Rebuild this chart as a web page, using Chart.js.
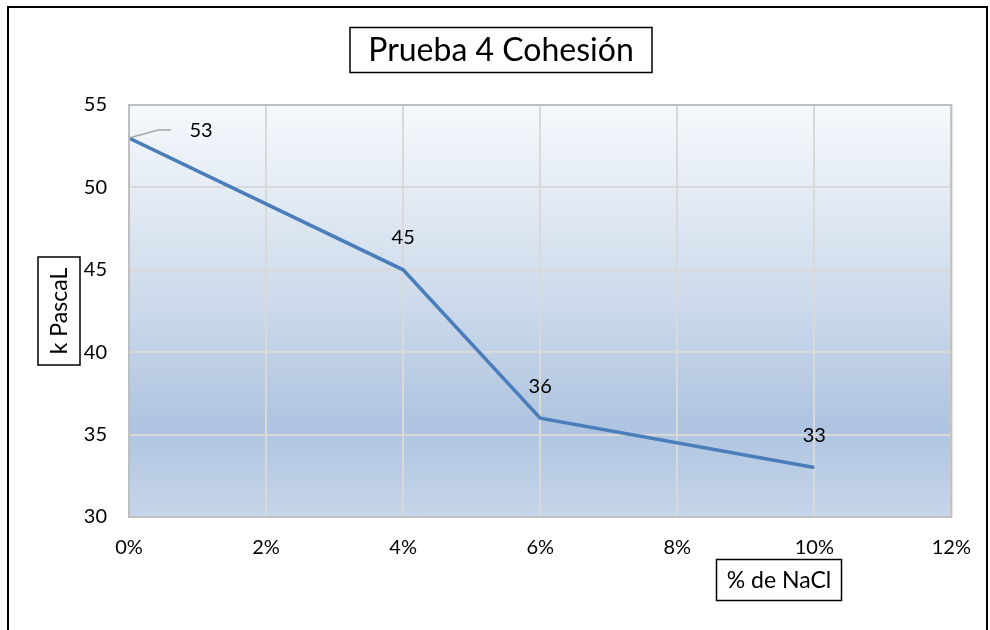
<!DOCTYPE html>
<html>
<head>
<meta charset="utf-8">
<script src="https://cdn.jsdelivr.net/npm/chart.js@4.4.1/dist/chart.umd.min.js"></script>
<style>
  html, body { margin: 0; padding: 0; background: #fff; }
  #wrap { position: relative; width: 990px; height: 630px; }
</style>
</head>
<body>
<div id="wrap"><canvas id="c" width="990" height="630"></canvas></div>
<script>
// NaCl content (fraction) and cohesion in kPa
const naclFraction = [0, 0.04, 0.06, 0.10];
const cohesionKPa = [53, 45, 36, 33];
const xTicks = [0, 0.02, 0.04, 0.06, 0.08, 0.10, 0.12];
const yTicks = [30, 35, 40, 45, 50, 55];

const titleText = 'Prueba 4 Cohesión';
const xTitleText = '% de NaCl';
const yTitleText = 'k PascaL';

const FONT = 'Lato, "Open Sans", sans-serif';

function boxedText(ctx, text, cx, cy, w, h, size, rotate) {
  ctx.save();
  ctx.translate(cx, cy);
  if (rotate) ctx.rotate(-Math.PI / 2);
  ctx.fillStyle = '#fff';
  ctx.fillRect(-w / 2, -h / 2, w, h);
  ctx.strokeStyle = '#000';
  ctx.lineWidth = 1.5;
  ctx.strokeRect(-w / 2, -h / 2, w, h);
  ctx.fillStyle = '#000';
  ctx.font = size + 'px ' + FONT;
  ctx.textAlign = 'center';
  ctx.textBaseline = 'middle';
  ctx.fillText(text, 0, 1);
  ctx.restore();
}

const decorations = {
  id: 'decorations',
  beforeDraw(chart) {
    const { ctx, chartArea: a } = chart;
    ctx.save();
    ctx.fillStyle = '#fff';
    ctx.fillRect(0, 0, chart.width, chart.height);
    const g = ctx.createLinearGradient(0, a.top, 0, a.bottom);
    g.addColorStop(0, '#F6F9FC');
    g.addColorStop(0.45, '#CFDCEC');
    g.addColorStop(0.78, '#AFC4E0');
    g.addColorStop(1, '#C6D6EA');
    ctx.fillStyle = g;
    ctx.fillRect(a.left, a.top, a.right - a.left, a.bottom - a.top);
    ctx.restore();
  },
  afterDraw(chart) {
    const { ctx, chartArea: a } = chart;
    ctx.save();
    // plot frame
    ctx.strokeStyle = '#BFBFBF';
    ctx.lineWidth = 2;
    ctx.strokeRect(a.left, a.top, a.right - a.left, a.bottom - a.top);
    // outer chart frame
    ctx.strokeStyle = '#000';
    ctx.lineWidth = 2;
    ctx.strokeRect(8, 7, 979, 640);
    ctx.restore();
    boxedText(ctx, titleText, 501, 50, 302, 45, 32, false);
    boxedText(ctx, xTitleText, 779, 580, 125, 41, 23, false);
    boxedText(ctx, yTitleText, 59, 311, 108, 42, 23, true);
  }
};

const valueLabels = {
  id: 'valueLabels',
  afterDatasetsDraw(chart) {
    const { ctx } = chart;
    const meta = chart.getDatasetMeta(0);
    ctx.save();
    ctx.font = '20px ' + FONT;
    ctx.fillStyle = '#000';
    ctx.textAlign = 'center';
    ctx.textBaseline = 'middle';
    meta.data.forEach((pt, i) => {
      const v = chart.data.datasets[0].data[i].y;
      if (i === 0) {
        // first label sits to the right, with a leader line
        ctx.strokeStyle = '#A6A6A6';
        ctx.lineWidth = 1.5;
        ctx.beginPath();
        ctx.moveTo(pt.x, pt.y);
        ctx.lineTo(pt.x + 29, pt.y - 8);
        ctx.lineTo(pt.x + 42, pt.y - 8);
        ctx.stroke();
        ctx.fillText(String(v), pt.x + 72, pt.y - 7);
      } else {
        ctx.fillText(String(v), pt.x, pt.y - 32);
      }
    });
    ctx.restore();
  }
};

new Chart(document.getElementById('c'), {
  type: 'scatter',
  data: {
    datasets: [{
      data: naclFraction.map((x, i) => ({ x, y: cohesionKPa[i] })),
      showLine: true,
      borderColor: '#4A7EBB',
      borderWidth: 3.5,
      pointRadius: 0,
      fill: false,
      tension: 0
    }]
  },
  options: {
    responsive: false,
    animation: false,
    events: [],
    layout: { padding: { left: 0, top: 105, right: 38, bottom: 0 } },
    plugins: { legend: { display: false }, tooltip: { enabled: false }, title: { display: false } },
    scales: {
      x: {
        type: 'linear',
        min: 0, max: 0.12,
        afterBuildTicks: s => { s.ticks = xTicks.map(v => ({ value: v })); },
        afterFit: s => { s.height = 113; },
        grid: { color: '#D9D9D9', lineWidth: 2, drawTicks: false },
        border: { display: false },
        ticks: {
          padding: 19,
          color: '#000',
          font: { family: FONT, size: 20 },
          callback: v => Math.round(v * 100) + '%'
        }
      },
      y: {
        min: 30, max: 55,
        afterBuildTicks: s => { s.ticks = yTicks.map(v => ({ value: v })); },
        afterFit: s => { s.width = 129; },
        grid: { color: '#D9D9D9', lineWidth: 2, drawTicks: false },
        border: { display: false },
        ticks: {
          padding: 22,
          color: '#000',
          font: { family: FONT, size: 20 }
        }
      }
    }
  },
  plugins: [decorations, valueLabels]
});
</script>
</body>
</html>
